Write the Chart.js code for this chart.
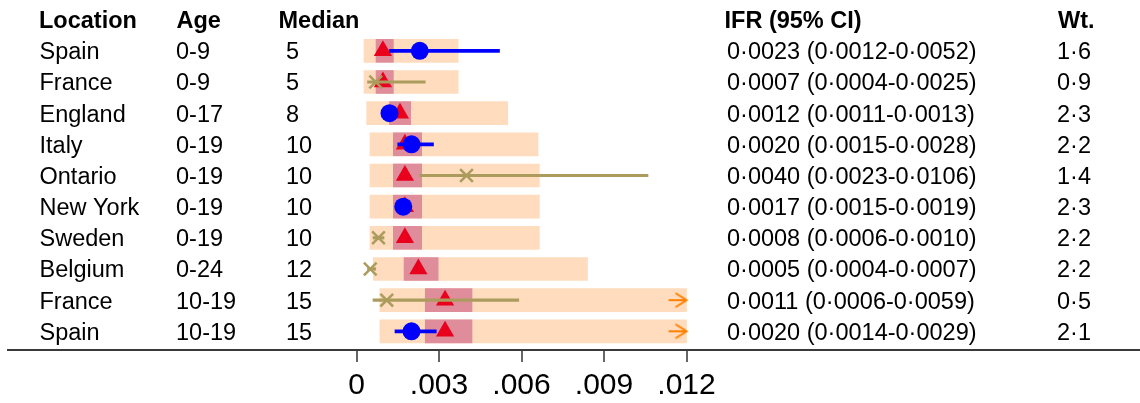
<!DOCTYPE html>
<html>
<head>
<meta charset="utf-8">
<script src="https://cdn.jsdelivr.net/npm/chart.js@4.4.1/dist/chart.umd.min.js"></script>
<style>
  html, body { margin: 0; padding: 0; background: #fff; }
</style>
</head>
<body>
<canvas id="chart" width="1140" height="403"></canvas>
<script>
// table columns
const headers = ['Location', 'Age', 'Median', 'IFR (95% CI)', 'Wt.'];
const locations = ['Spain', 'France', 'England', 'Italy', 'Ontario', 'New York', 'Sweden', 'Belgium', 'France', 'Spain'];
const ages = ['0-9', '0-9', '0-17', '0-19', '0-19', '0-19', '0-19', '0-24', '10-19', '10-19'];
const medians = ['5', '5', '8', '10', '10', '10', '10', '12', '15', '15'];
const weights = ['1·6', '0·9', '2·3', '2·2', '1·4', '2·3', '2·2', '2·2', '0·5', '2·1'];

// observed IFR and CI
const ifr = [0.0023, 0.0007, 0.0012, 0.0020, 0.0040, 0.0017, 0.0008, 0.0005, 0.0011, 0.0020];
const ifrLow = [0.0012, 0.0004, 0.0011, 0.0015, 0.0023, 0.0015, 0.0006, 0.0004, 0.0006, 0.0014];
const ifrHigh = [0.0052, 0.0025, 0.0013, 0.0028, 0.0106, 0.0019, 0.0010, 0.0007, 0.0059, 0.0029];
const source = ['blue', 'olive', 'blue', 'blue', 'olive', 'blue', 'olive', 'olive', 'olive', 'blue'];

// predicted range (wide), inner range and median
const predLow = [0.00027, 0.00027, 0.00037, 0.00049, 0.00049, 0.00049, 0.00049, 0.00061, 0.00085, 0.00085];
const predHigh = [0.0037, 0.0037, 0.0055, 0.0066, 0.00665, 0.00665, 0.00665, 0.0084, 0.012, 0.012];
const truncated = [false, false, false, false, false, false, false, false, true, true];
const innerLow = [0.00071, 0.00071, 0.0012, 0.00134, 0.00134, 0.00134, 0.00134, 0.00173, 0.0025, 0.0025];
const innerHigh = [0.00134, 0.00134, 0.00197, 0.00237, 0.00237, 0.00237, 0.00237, 0.00297, 0.0042, 0.0042];
const predMedian = [0.00096, 0.00096, 0.00158, 0.00176, 0.00176, 0.00176, 0.00176, 0.00225, 0.00322, 0.00322];

// x axis ticks
const tickValues = [0, 0.003, 0.006, 0.009, 0.012];
const tickLabels = ['0', '.003', '.006', '.009', '.012'];

const FONT = '"Liberation Sans", Arial, sans-serif';
const fmt = v => v.toFixed(4).replace('.', '·');
const rowY = i => i + 1;

const pick = (kind) => ifr.map((v, i) => i).filter(i => source[i] === kind);

// arrow image for truncated ranges (tip sits at the centre)
const arrow = document.createElement('canvas');
arrow.width = 40;
arrow.height = 20;
(function () {
  const c = arrow.getContext('2d');
  c.strokeStyle = '#ff8000';
  c.lineWidth = 2;
  c.beginPath();
  c.moveTo(2, 10);
  c.lineTo(20, 10);
  c.moveTo(9, 3);
  c.lineTo(20, 10);
  c.lineTo(9, 17);
  c.stroke();
})();

const tablePlugin = {
  id: 'table',
  afterDraw(chart) {
    const ctx = chart.ctx;
    const y = chart.scales.y;
    ctx.save();
    ctx.fillStyle = '#000';
    ctx.textAlign = 'left';
    ctx.textBaseline = 'alphabetic';
    ctx.font = 'bold 23.5px ' + FONT;
    const hx = [39, 176.5, 278.5, 724.5, 1058];
    headers.forEach((h, i) => ctx.fillText(h, hx[i], y.getPixelForValue(0) + 8.5));
    ctx.font = '23.5px ' + FONT;
    locations.forEach((loc, i) => {
      const py = y.getPixelForValue(rowY(i)) + 8.5;
      ctx.fillText(loc, 39.5, py);
      ctx.fillText(ages[i], 176, py);
      ctx.fillText(medians[i], 286, py);
      ctx.fillText(fmt(ifr[i]) + ' (' + fmt(ifrLow[i]) + '-' + fmt(ifrHigh[i]) + ')', 727, py);
      ctx.fillText(weights[i], 1057, py);
    });
    ctx.restore();
  }
};

const blueRows = pick('blue');
const oliveRows = pick('olive');

new Chart(document.getElementById('chart'), {
  type: 'bar',
  data: {
    datasets: [
      {
        label: 'range',
        indexAxis: 'y',
        grouped: false,
        barThickness: 23,
        backgroundColor: '#fedcbd',
        order: 9,
        data: predLow.map((v, i) => ({ x: [v, predHigh[i]], y: rowY(i) })),
      },
      {
        label: 'inner',
        indexAxis: 'y',
        grouped: false,
        barThickness: 23,
        backgroundColor: '#df8c9b',
        order: 8,
        data: innerLow.map((v, i) => ({ x: [v, innerHigh[i]], y: rowY(i) })),
      },
      {
        label: 'median',
        type: 'scatter',
        pointStyle: 'triangle',
        radius: 10.5,
        borderWidth: 0,
        backgroundColor: '#e8001c',
        order: 7,
        data: predMedian.map((v, i) => ({ x: v, y: rowY(i) })),
      },
      {
        label: 'blue ci',
        indexAxis: 'y',
        grouped: false,
        barThickness: 3,
        backgroundColor: '#0000ff',
        order: 6,
        data: blueRows.map(i => ({ x: [ifrLow[i], ifrHigh[i]], y: rowY(i) })),
      },
      {
        label: 'olive ci',
        indexAxis: 'y',
        grouped: false,
        barThickness: 2.5,
        backgroundColor: '#ab9c5e',
        order: 5,
        data: oliveRows.map(i => ({ x: [ifrLow[i], ifrHigh[i]], y: rowY(i) })),
      },
      {
        label: 'blue',
        type: 'scatter',
        pointStyle: 'circle',
        radius: 9,
        borderWidth: 0,
        backgroundColor: '#0000ff',
        order: 4,
        data: blueRows.map(i => ({ x: ifr[i], y: rowY(i) })),
      },
      {
        label: 'olive',
        type: 'scatter',
        pointStyle: 'crossRot',
        radius: 9,
        borderWidth: 2.5,
        borderColor: '#ab9c5e',
        order: 3,
        data: oliveRows.map(i => ({ x: ifr[i], y: rowY(i) })),
      },
      {
        label: 'arrows',
        type: 'scatter',
        pointStyle: arrow,
        order: 2,
        data: predHigh.map((v, i) => ({ x: v, y: rowY(i) })).filter((p, i) => truncated[i]),
      },
    ],
  },
  options: {
    responsive: false,
    animation: false,
    layout: { autoPadding: false, padding: { left: 8, right: 0, top: 0, bottom: 0 } },
    plugins: {
      legend: { display: false },
      tooltip: { enabled: false },
    },
    scales: {
      x: {
        type: 'linear',
        offset: false,
        min: -0.012673,
        max: 0.028491,
        afterBuildTicks: (scale) => {
          scale.ticks = tickValues.map(v => ({ value: v }));
        },
        afterFit: (scale) => { scale.height = 53; },
        grid: {
          offset: false,
          drawOnChartArea: false,
          drawTicks: true,
          tickLength: 12,
          color: '#666',
          lineWidth: 2,
        },
        border: { display: true, color: '#3a3a3a', width: 2 },
        ticks: {
          autoSkip: false,
          maxRotation: 0,
          padding: 6,
          color: '#000',
          font: { family: FONT, size: 30 },
          callback: (value) => {
            const k = tickValues.indexOf(value);
            return k >= 0 ? tickLabels[k] : '';
          },
        },
      },
      y: {
        type: 'linear',
        display: false,
        offset: false,
        reverse: true,
        min: -0.63,
        max: 10.6,
        grid: { offset: false },
      },
    },
  },
  plugins: [tablePlugin],
});
</script>
</body>
</html>
